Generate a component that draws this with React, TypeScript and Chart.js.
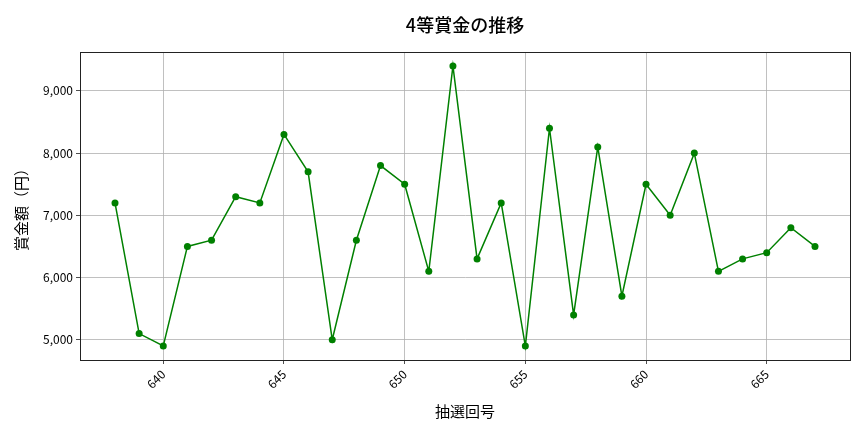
import React, { useRef, useEffect } from 'react';
import Chart from 'chart.js/auto';

const drawNumbers = [638, 639, 640, 641, 642, 643, 644, 645, 646, 647, 648, 649, 650, 651, 652, 653, 654, 655, 656, 657, 658, 659, 660, 661, 662, 663, 664, 665, 666, 667];
const prizeValues = [7200, 5100, 4900, 6500, 6600, 7300, 7200, 8300, 7700, 5000, 6600, 7800, 7500, 6100, 9400, 6300, 7200, 4900, 8400, 5400, 8100, 5700, 7500, 7000, 8000, 6100, 6300, 6400, 6800, 6500];
const xTickValues = [640, 645, 650, 655, 660, 665];
const yTickValues = [5000, 6000, 7000, 8000, 9000];
const chartTitle = '4等賞金の推移';

const FONT = "'Noto Sans CJK JP', 'Noto Sans', sans-serif";

// matplotlib-style frame and a title centred over the axes
const frame = {
    id: 'frame',
    afterDraw(chart: any) {
        const { ctx, chartArea } = chart;
        ctx.save();
        ctx.strokeStyle = '#222';
        ctx.lineWidth = 1;
        ctx.strokeRect(chartArea.left + 0.5, chartArea.top + 0.5, chartArea.right - chartArea.left, chartArea.bottom - chartArea.top);
        ctx.fillStyle = '#000';
        ctx.font = `500 18px ${FONT}`;
        ctx.textAlign = 'center';
        ctx.textBaseline = 'middle';
        ctx.fillText(chartTitle, (chartArea.left + chartArea.right) / 2, 25);
        ctx.restore();
    },
};

const App: React.FC = () => {
    const chartRef = useRef<HTMLCanvasElement>(null);
    const chartInstanceRef = useRef<Chart | null>(null);

    useEffect(() => {
        document.body.style.margin = '0';
        if (!chartRef.current) return;
        const ctx = chartRef.current.getContext('2d');
        if (!ctx) return;
        if (chartInstanceRef.current) chartInstanceRef.current.destroy();

        const span = drawNumbers[drawNumbers.length - 1] - drawNumbers[0];
        const xMin = drawNumbers[0] - span * 0.05;
        const xMax = drawNumbers[drawNumbers.length - 1] + span * 0.05;
        const yLo = Math.min(...prizeValues);
        const yHi = Math.max(...prizeValues);

        chartInstanceRef.current = new Chart(ctx, {
            type: 'line',
            data: {
                datasets: [{
                    label: '4等賞金',
                    data: drawNumbers.map((n, i) => ({ x: n, y: prizeValues[i] })),
                    borderColor: '#008000',
                    backgroundColor: '#008000',
                    borderWidth: 1.5,
                    pointRadius: 3.5,
                    pointBorderWidth: 0,
                    tension: 0,
                }],
            },
            options: {
                animation: false,
                responsive: false,
                layout: { padding: { left: 12, right: 14, top: 52, bottom: 0 } },
                plugins: {
                    legend: { display: false },
                    tooltip: { enabled: false },
                    title: { display: false },
                },
                scales: {
                    x: {
                        type: 'linear',
                        min: xMin,
                        max: xMax,
                        afterBuildTicks: (axis: any) => { axis.ticks = xTickValues.map((v) => ({ value: v })); },
                        afterFit: (axis: any) => { axis.height = 72; },
                        ticks: {
                            minRotation: 45,
                            maxRotation: 45,
                            color: '#000',
                            font: { family: FONT, size: 12 },
                            callback: (v: any) => String(v),
                        },
                        grid: { color: '#b0b0b0', lineWidth: 0.8, tickLength: 4, tickColor: '#222' },
                        border: { color: '#222' },
                        title: {
                            display: true,
                            text: '抽選回号',
                            color: '#000',
                            font: { family: FONT, size: 15 },
                            padding: { top: 0, bottom: 12 },
                        },
                    },
                    y: {
                        min: yLo - (yHi - yLo) * 0.05,
                        max: yHi + (yHi - yLo) * 0.05,
                        afterBuildTicks: (axis: any) => { axis.ticks = yTickValues.map((v) => ({ value: v })); },
                        afterFit: (axis: any) => { axis.width = 68; },
                        ticks: {
                            color: '#000',
                            font: { family: FONT, size: 12 },
                            callback: (v: any) => Number(v).toLocaleString('en-US'),
                        },
                        grid: { color: '#b0b0b0', lineWidth: 0.8, tickLength: 4, tickColor: '#222' },
                        border: { color: '#222' },
                        title: {
                            display: true,
                            text: '賞金額（円）',
                            color: '#000',
                            font: { family: FONT, size: 15 },
                            padding: 0,
                        },
                    },
                },
            },
            plugins: [frame],
        });

        return () => {
            if (chartInstanceRef.current) chartInstanceRef.current.destroy();
        };
    }, []);

    return (
        <div style={{ position: 'absolute', left: 0, top: 0, width: 864, height: 432, background: '#fff' }}>
            <canvas ref={chartRef} width={864} height={432}></canvas>
        </div>
    );
};

export default App;
